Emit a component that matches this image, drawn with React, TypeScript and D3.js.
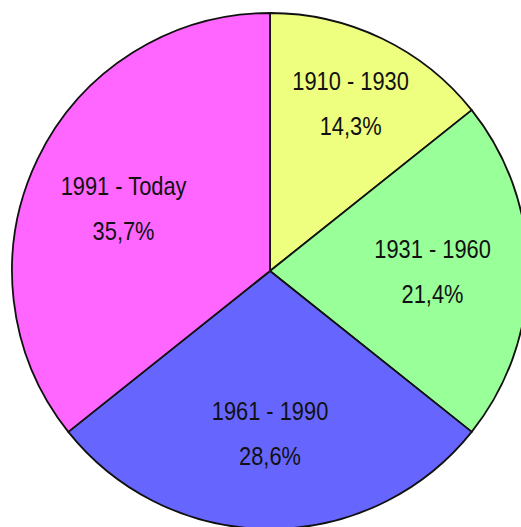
import React from "react";
import * as d3 from "d3";

const categories = ["1910 - 1930", "1931 - 1960", "1961 - 1990", "1991 - Today"];
const values = [2, 3, 4, 5];
const percentLabels = ["14,3%", "21,4%", "28,6%", "35,7%"];
const colors = ["#EEFF80", "#99FF99", "#6666FF", "#FF66FF"];

const W = 521;
const H = 527;
const cx = 270;
const cy = 271;
const R = 258;

export default function App() {
  const pie = d3.pie<number>().sort(null).value((d) => d)(values);
  const arc = d3.arc<d3.PieArcDatum<number>>().innerRadius(0).outerRadius(R);
  // layout: label distance from centre per slice (smaller slices push labels further out)
  const labelRadius = (p: d3.PieArcDatum<number>) =>
    R * (p.endAngle - p.startAngle < 1 ? 0.72 : 0.63);
  return (
    <svg
      width={W}
      height={H}
      style={{ position: "absolute", left: 0, top: 0, background: "#fff" }}
    >
      <g transform={`translate(${cx},${cy})`}>
        {pie.map((p, i) => (
          <path key={i} d={arc(p) || ""} fill={colors[i]} stroke="#111" strokeWidth={1.8} strokeLinejoin="round" />
        ))}
        {pie.map((p, i) => {
          const lr = labelRadius(p);
          const [x, y] = d3.arc<d3.PieArcDatum<number>>().innerRadius(lr).outerRadius(lr).centroid(p);
          return (
            <g key={"l" + i} transform={`translate(${x},${y + (i === 3 ? 8 : 0)}) scale(0.84,1)`}>
              <text
                y={-22.5}
                textAnchor="middle"
                dominantBaseline="central"
                fontFamily="'Liberation Sans', Arial, sans-serif"
                fontSize={26}
                fill="#111"
              >
                {categories[i]}
              </text>
              <text
                y={22.5}
                textAnchor="middle"
                dominantBaseline="central"
                fontFamily="'Liberation Sans', Arial, sans-serif"
                fontSize={26}
                fill="#111"
              >
                {percentLabels[i]}
              </text>
            </g>
          );
        })}
      </g>
    </svg>
  );
}
